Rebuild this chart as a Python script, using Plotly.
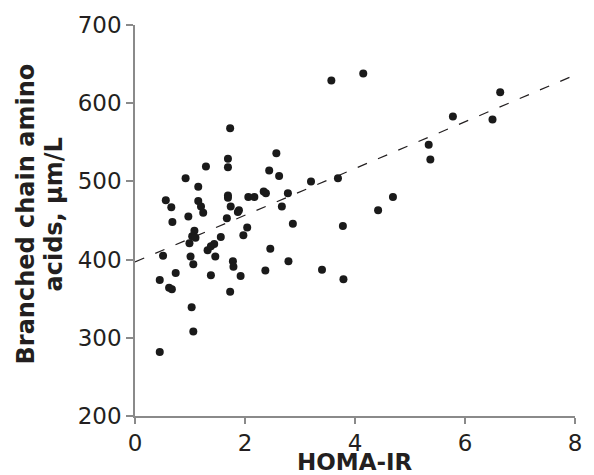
import plotly.graph_objects as go

homa_ir = [1.73, 1.69, 1.69, 1.29, 0.92, 1.15, 0.56, 0.66, 0.68, 0.97,
           1.15, 1.20, 1.24, 1.69, 1.69, 1.74, 1.89, 1.87, 2.06, 2.17,
           2.34, 2.38, 2.44, 2.57, 2.62, 2.78, 2.67, 1.67, 2.04, 1.97,
           1.56, 1.08, 1.04, 1.10, 0.99, 1.32, 1.38, 1.44, 0.51, 1.01,
           1.46, 1.06, 1.78, 1.79, 2.46, 2.79, 0.74, 0.45, 0.62, 0.67,
           1.38, 1.92, 2.37, 1.73, 1.03, 1.06, 0.45, 3.57, 4.15, 3.20,
           3.69, 5.34, 5.37, 2.87, 3.78, 4.42, 4.69, 3.40, 3.79, 6.64,
           5.78, 6.50]
bcaa = [568, 529, 518, 519, 504, 493, 476, 467, 448, 455,
        475, 468, 460, 482, 479, 468, 463, 461, 480, 480,
        487, 485, 514, 536, 507, 485, 468, 453, 441, 431,
        429, 437, 430, 428, 421, 412, 417, 420, 405, 404,
        404, 394, 398, 391, 414, 398, 383, 374, 364, 362,
        380, 379, 386, 359, 339, 308, 282, 629, 638, 500,
        504, 547, 528, 446, 443, 463, 480, 387, 375, 614,
        583, 579]

fit_x = [0, 8]
fit_y = [397, 636]

x_ticks = [0, 2, 4, 6, 8]
y_ticks = [200, 300, 400, 500, 600, 700]

x_title = "HOMA-IR"
y_title_lines = ["Branched chain amino", "acids, µm/L"]

FONT = "DejaVu Sans"
AXIS_COLOR = "#8a8a8a"
TEXT_COLOR = "#231f20"

fig = go.Figure()
fig.add_trace(go.Scatter(x=fit_x, y=fit_y, mode="lines",
                         line=dict(color="#231f20", width=1.2, dash="10px,12px"),
                         hoverinfo="skip", showlegend=False))
fig.add_trace(go.Scatter(x=homa_ir, y=bcaa, mode="markers",
                         marker=dict(color="#1a1a1a", size=8),
                         showlegend=False))

axis_common = dict(showgrid=False, zeroline=False, showline=True,
                   linecolor=AXIS_COLOR, linewidth=1.5, ticks="outside",
                   tickwidth=1.5, tickcolor=AXIS_COLOR,
                   tickfont=dict(family=FONT, size=23, color=TEXT_COLOR))

fig.update_xaxes(range=[0, 8], tickvals=x_ticks, ticklen=6, **axis_common)
fig.update_yaxes(range=[200, 700], tickvals=y_ticks, ticklen=7, **axis_common)

annotations = [
    dict(text=f"<b>{x_title}</b>", x=0.5, y=0, xref="paper", yref="paper",
         xanchor="center", yanchor="middle", yshift=-46, showarrow=False,
         borderpad=0, font=dict(family=FONT, size=23, color=TEXT_COLOR)),
]
for i, line in enumerate(y_title_lines):
    annotations.append(dict(text=f"<b>{line}</b>", x=0, y=0.5, xref="paper", yref="paper",
                            xanchor="center", yanchor="middle", textangle=-90,
                            xshift=-110 + 28 * i, yshift=6, showarrow=False,
                            font=dict(family=FONT, size=24, color=TEXT_COLOR)))

fig.update_layout(width=594, height=475, autosize=False,
                  margin=dict(l=135, r=14, t=25, b=59),
                  plot_bgcolor="white", paper_bgcolor="white",
                  annotations=annotations)

fig.write_html("out.html", config={"displayModeBar": False},
               post_script="document.body.style.margin='0';document.body.style.overflow='hidden';")
